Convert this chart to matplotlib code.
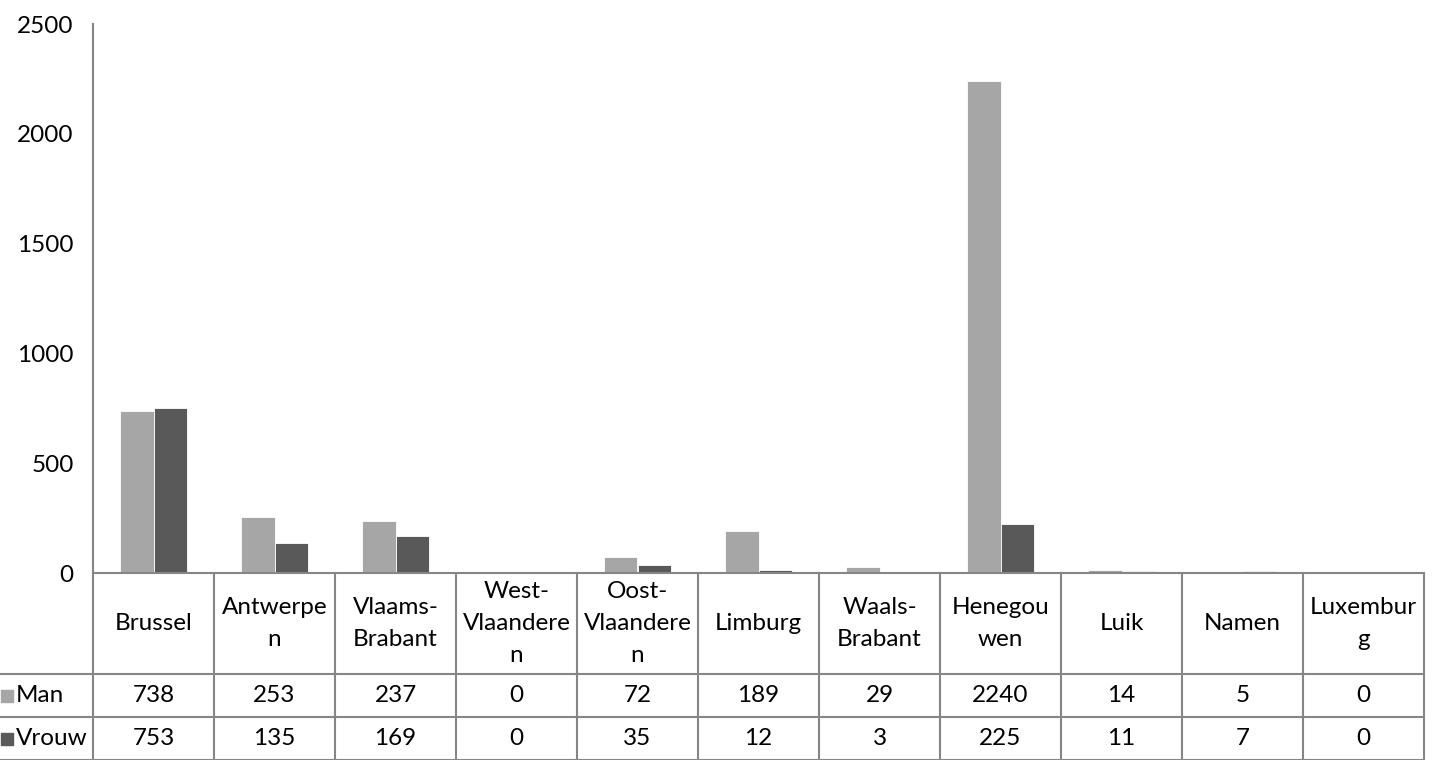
import matplotlib.pyplot as plt
import numpy as np

# data
provinces = ["Brussel", "Antwerpe\nn", "Vlaams-\nBrabant", "West-\nVlaandere\nn", "Oost-\nVlaandere\nn",
             "Limburg", "Waals-\nBrabant", "Henegou\nwen", "Luik", "Namen", "Luxembur\ng"]
man = [738, 253, 237, 0, 72, 189, 29, 2240, 14, 5, 0]
vrouw = [753, 135, 169, 0, 35, 12, 3, 225, 11, 7, 0]
series_names = ["Man", "Vrouw"]
colors = ["#a6a6a6", "#595959"]
yticks = [0, 500, 1000, 1500, 2000, 2500]

plt.rcParams['font.family'] = ['Lato', 'DejaVu Sans']
fs = 17.5
W, H = 1435, 760
fig = plt.figure(figsize=(W / 100, H / 100), dpi=100)

x_left, x_right = 93, 1424
y_zero, y_top = 573, 24
ax = fig.add_axes([x_left / W, (H - y_zero) / H, (x_right - x_left) / W, (y_zero - y_top) / H])

n = len(provinces)
x = np.arange(n)
bw = 0.28
ax.bar(x - bw / 2, man, bw, color=colors[0], edgecolor="white", linewidth=0.6)
ax.bar(x + bw / 2, vrouw, bw, color=colors[1], edgecolor="white", linewidth=0.6)
ax.set_xlim(-0.5, n - 0.5)
ax.set_ylim(0, 2500)
ax.set_yticks(yticks)
ax.set_yticklabels([str(t) for t in yticks], fontsize=fs)
ax.tick_params(axis="y", length=0, pad=14)
ax.set_xticks([])
for s in ["top", "right"]:
    ax.spines[s].set_visible(False)
for s in ["left", "bottom"]:
    ax.spines[s].set_color("#868686")
    ax.spines[s].set_linewidth(1.5)

# data table below the axis, y in pixels
tax = fig.add_axes([x_left / W, 0, (x_right - x_left) / W, (H - y_zero) / H])
tax.set_xlim(-0.5, n - 0.5)
tax.set_ylim(0, H - y_zero)
tax.axis("off")
unit = (x_right - x_left) / n
label_left = -0.5 - x_left / unit
line_c = "#868686"
row_tops = [H - y_zero, 86, 43, 0]
for yy in row_tops[1:]:
    tax.plot([label_left, n - 0.5], [yy, yy], color=line_c, lw=1.5, clip_on=False)
for i in range(n + 1):
    tax.plot([i - 0.5, i - 0.5], [0, row_tops[0]], color=line_c, lw=1.5, clip_on=False)

for i, p in enumerate(provinces):
    tax.text(i, (row_tops[0] + row_tops[1]) / 2, p, ha="center", va="center",
             fontsize=fs, linespacing=1.62)
    tax.text(i, 64.5, str(man[i]), ha="center", va="center", fontsize=fs)
    tax.text(i, 21.5, str(vrouw[i]), ha="center", va="center", fontsize=fs)

for j, (name, c) in enumerate(zip(series_names, colors)):
    yc = 64.5 if j == 0 else 21.5
    tax.scatter([label_left + 0.06], [yc], marker="s", s=80, color=c, clip_on=False)
    tax.text(label_left + 0.13, yc, name, ha="left", va="center", fontsize=fs, clip_on=False)

fig.savefig("out.png", dpi=100)
